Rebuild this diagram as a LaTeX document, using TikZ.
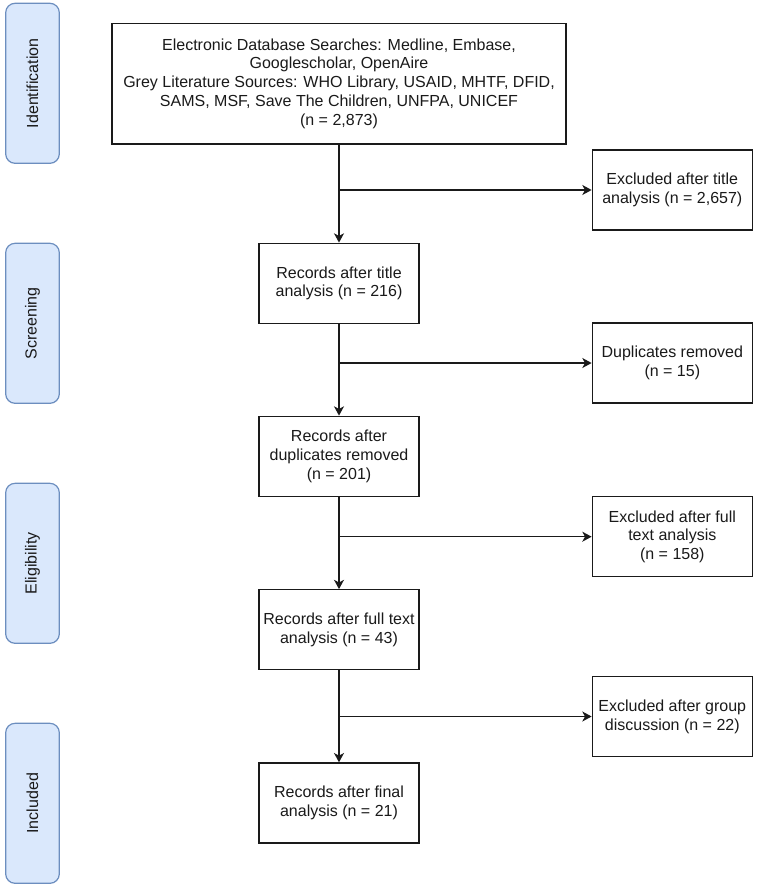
\documentclass[tikz,border=0pt]{standalone}
\usepackage{fontspec}
\setmainfont{Liberation Sans}
\usetikzlibrary{arrows.meta}
\definecolor{stagefill}{HTML}{DAE8FC}
\definecolor{stagedraw}{HTML}{6C8EBF}
\definecolor{ink}{HTML}{1A1A1A}
\begin{document}
\begin{tikzpicture}[x=0.75pt,y=-0.75pt,
  every node/.style={font=\fontsize{12pt}{14.1pt}\selectfont, text=ink, align=center, inner sep=0pt},
  box/.style={draw=ink, line width=1pt, fill=white, minimum width=120pt, minimum height=60pt},
  stagebox/.style={draw=stagedraw, line width=0.9pt, fill=stagefill, rounded corners=7pt,
    rotate=90, minimum width=120pt, minimum height=40.2pt},
  arr/.style={draw=ink, line width=1pt, -{Stealth[length=7pt,width=7.5pt,inset=2pt]}}
]
\useasboundingbox (0,0) rectangle (757,885);

% stage labels
\node[stagebox] (sid) at (32.5,83.3) {Identification};
\node[stagebox] (ssc) at (32.5,323.3) {Screening};
\node[stagebox] (sel) at (32.5,563.3) {Eligibility};
\node[stagebox] (sin) at (32.5,803.3) {Included};

% main column
\node[box, minimum width=340.5pt, minimum height=90.5pt] (top) at (339,83.5)
  {Electronic Database Searches: Medline, Embase,\\ Googlescholar, OpenAire\\
   Grey Literature Sources: WHO Library, USAID, MHTF, DFID,\\
   SAMS, MSF, Save The Children, UNFPA, UNICEF\\ (n = 2,873)};
\node[box] (r1) at (339,283.3) {Records after title\\ analysis (n = 216)};
\node[box] (r2) at (339,456.3) {Records after\\ duplicates removed\\ (n = 201)};
\node[box] (r3) at (339,629.8) {Records after full text\\ analysis (n = 43)};
\node[box] (r4) at (339,803) {Records after final\\ analysis (n = 21)};

% exclusions
\node[box] (e1) at (672.3,190) {Excluded after title\\ analysis (n = 2,657)};
\node[box] (e2) at (672.3,363) {Duplicates removed\\ (n = 15)};
\node[box] (e3) at (672.3,536.7) {Excluded after full\\ text analysis\\ (n = 158)};
\node[box] (e4) at (672.3,716.5) {Excluded after group\\ discussion (n = 22)};

% connectors
\draw[arr] (top) -- (r1);
\draw[arr] (r1) -- (r2);
\draw[arr] (r2) -- (r3);
\draw[arr] (r3) -- (r4);
\draw[arr] (top.south |- e1.west) -- (e1.west);
\draw[arr] (r1.south |- e2.west) -- (e2.west);
\draw[arr] (r2.south |- e3.west) -- (e3.west);
\draw[arr] (r3.south |- e4.west) -- (e4.west);
\end{tikzpicture}
\end{document}
